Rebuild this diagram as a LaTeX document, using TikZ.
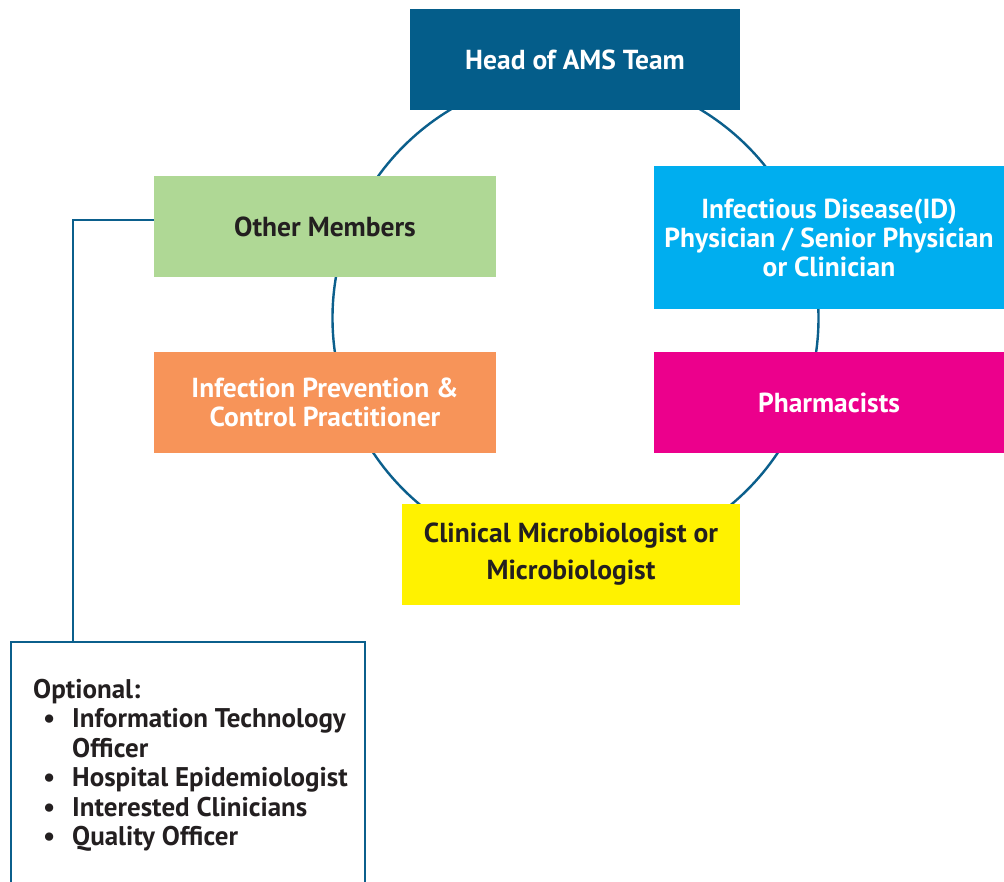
\documentclass[tikz,border=0pt]{standalone}
\usepackage{fontspec}
\setmainfont{PT Sans}
\definecolor{headblue}{HTML}{045D8A}
\definecolor{linecol}{HTML}{0B5F8C}
\definecolor{boxgreen}{HTML}{AFD895}
\definecolor{boxcyan}{HTML}{00AEEF}
\definecolor{boxorange}{HTML}{F79459}
\definecolor{boxmag}{HTML}{EC008C}
\definecolor{boxyellow}{HTML}{FFF200}
\definecolor{darktext}{HTML}{231F20}
\begin{document}
\begin{tikzpicture}[x=1pt,y=-1pt,
  box/.style={rectangle, inner sep=0pt, align=center, font=\fontsize{27.5}{29}\selectfont\bfseries},
  wtxt/.style={text=white},
  dtxt/.style={text=darktext},
  conn/.style={draw=linecol, line width=2pt}]
\useasboundingbox (0,0) rectangle (1004,882);
\clip (0,0) rectangle (1004,882);
\fill[white] (0,0) rectangle (1004,882);
\draw[linecol, line width=2.4pt] (575.5,318) circle[radius=243];
\node[box, wtxt, fill=headblue, minimum width=330pt, minimum height=101pt] (head) at (575,59.5) {Head of AMS Team};
\node[box, dtxt, fill=boxgreen, minimum width=342pt, minimum height=101pt] (other) at (325,226.5) {Other Members};
\node[box, wtxt, fill=boxcyan, minimum width=350pt, minimum height=143pt] (id) at (829,237.5) {Infectious Disease(ID)\\Physician / Senior Physician\\or Clinician};
\node[box, wtxt, fill=boxorange, minimum width=342pt, minimum height=101pt] (ipc) at (325,402.5) {Infection Prevention \&\\Control Practitioner};
\node[box, wtxt, fill=boxmag, minimum width=350pt, minimum height=101pt] (pharm) at (829,402.5) {Pharmacists};
\node[box, dtxt, fill=boxyellow, minimum width=338pt, minimum height=101pt, font=\fontsize{27.5}{37}\selectfont\bfseries] (clin) at (571,554.5) {Clinical Microbiologist or\\Microbiologist};
\node[draw=linecol, line width=2pt, rectangle, minimum width=354pt, minimum height=280pt, anchor=north west, inner sep=0pt] (opt) at (10,641) {};
\node[anchor=north west, align=left, inner sep=0pt, dtxt, font=\fontsize{27}{29.5}\selectfont\bfseries] (opttext) at (33,679) {Optional:\\
\hspace*{10pt}\makebox[29pt][l]{\textbullet}Information Technology\\
\hspace*{39pt}Officer\\
\hspace*{10pt}\makebox[29pt][l]{\textbullet}Hospital Epidemiologist\\
\hspace*{10pt}\makebox[29pt][l]{\textbullet}Interested Clinicians\\
\hspace*{10pt}\makebox[29pt][l]{\textbullet}Quality Officer};
\coordinate (optin) at (73,641);
\draw[conn] ([yshift=6pt]other.west) -| (optin);
\end{tikzpicture}
\end{document}
